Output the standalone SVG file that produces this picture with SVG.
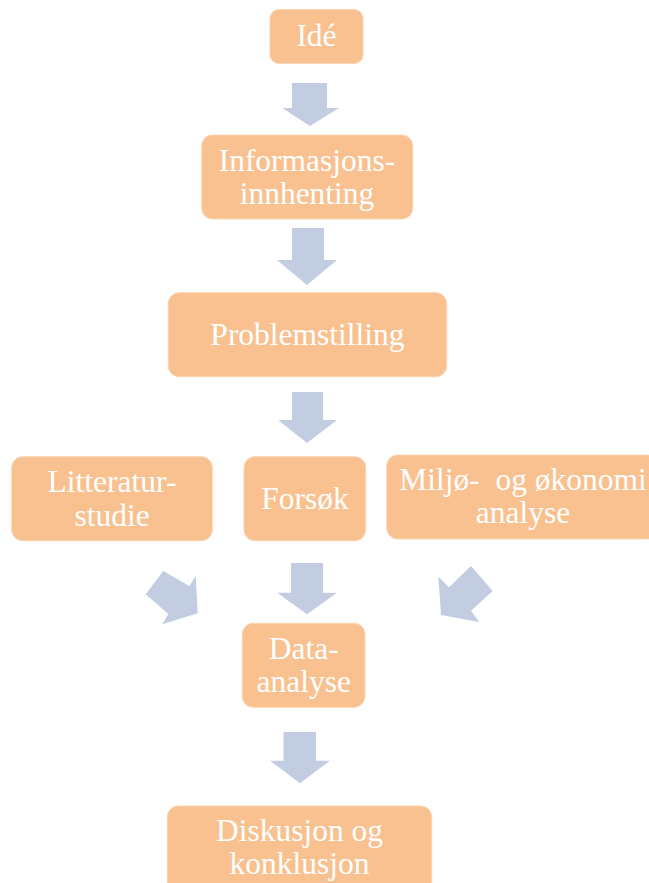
<svg xmlns="http://www.w3.org/2000/svg" width="649" height="883" viewBox="0 0 649 883">
  <style>
    .box { fill: #F9C18F; stroke: #FBD3B0; stroke-width: 1; }
    .lbl { font-family: "Liberation Serif", "Times New Roman", serif; font-size: 31.5px; fill: #FFFFFF; text-anchor: middle; }
    .arrow { fill: #C3CDE1; }
  </style>
  <rect width="649" height="883" fill="#FFFFFF"/>

  <!-- block arrows between steps -->
  <g id="connectors">
    <polygon class="arrow" points="292,83 327,83 327,108 339,108 310,126 282,108 292,108"/>
    <polygon class="arrow" points="292,228 324,228 324,260 337,260 307,285 277,260 292,260"/>
    <polygon class="arrow" points="292,392 323,392 323,420 337,420 307,443 278,420 292,420"/>
    <polygon class="arrow" points="145.7,594.3 163.3,571 189.3,586 195.7,576 197.7,613.3 162.3,624.3 168.3,614"/>
    <polygon class="arrow" points="291,563 323,563 323,592.7 337,592.7 307,614.3 277.3,592.7 291,592.7"/>
    <polygon class="arrow" points="471,566 492.7,591 471,610.7 479.3,622 441,615 438.3,576.7 449,587.3"/>
    <polygon class="arrow" points="283.5,732 316,732 316,760.7 330,760.7 300,783.3 270,760.7 283.5,760.7"/>
  </g>

  <g id="ide">
    <rect class="box" x="270" y="9.5" width="93" height="54" rx="9"/>
    <text class="lbl" x="316.5" y="46">Idé</text>
  </g>

  <g id="informasjonsinnhenting">
    <rect class="box" x="201.7" y="135" width="211" height="84" rx="11"/>
    <text class="lbl" x="307" y="171">Informasjons-</text>
    <text class="lbl" x="307" y="203.5">innhenting</text>
  </g>

  <g id="problemstilling">
    <rect class="box" x="168.3" y="292.7" width="278.4" height="84" rx="11"/>
    <text class="lbl" x="307.5" y="345">Problemstilling</text>
  </g>

  <g id="litteraturstudie">
    <rect class="box" x="11.7" y="456.7" width="200.6" height="84" rx="11"/>
    <text class="lbl" x="112" y="491.5">Litteratur-</text>
    <text class="lbl" x="112" y="525.5">studie</text>
  </g>

  <g id="forsok">
    <rect class="box" x="244" y="456.7" width="121.7" height="84" rx="11"/>
    <text class="lbl" x="305" y="509">Forsøk</text>
  </g>

  <g id="miljo-okonomi">
    <rect class="box" x="386.7" y="455" width="272" height="84" rx="11"/>
    <text class="lbl" x="523" y="490.3" xml:space="preserve">Miljø-  og økonomi</text>
    <text class="lbl" x="523" y="523.3">analyse</text>
  </g>

  <g id="dataanalyse">
    <rect class="box" x="242.3" y="623.3" width="122.7" height="84" rx="11"/>
    <text class="lbl" x="303.7" y="659">Data-</text>
    <text class="lbl" x="303.7" y="691.5">analyse</text>
  </g>

  <g id="diskusjon">
    <rect class="box" x="167.3" y="806" width="264.4" height="90" rx="11"/>
    <text class="lbl" x="299.5" y="841">Diskusjon og</text>
    <text class="lbl" x="299.5" y="873.5">konklusjon</text>
  </g>
</svg>
